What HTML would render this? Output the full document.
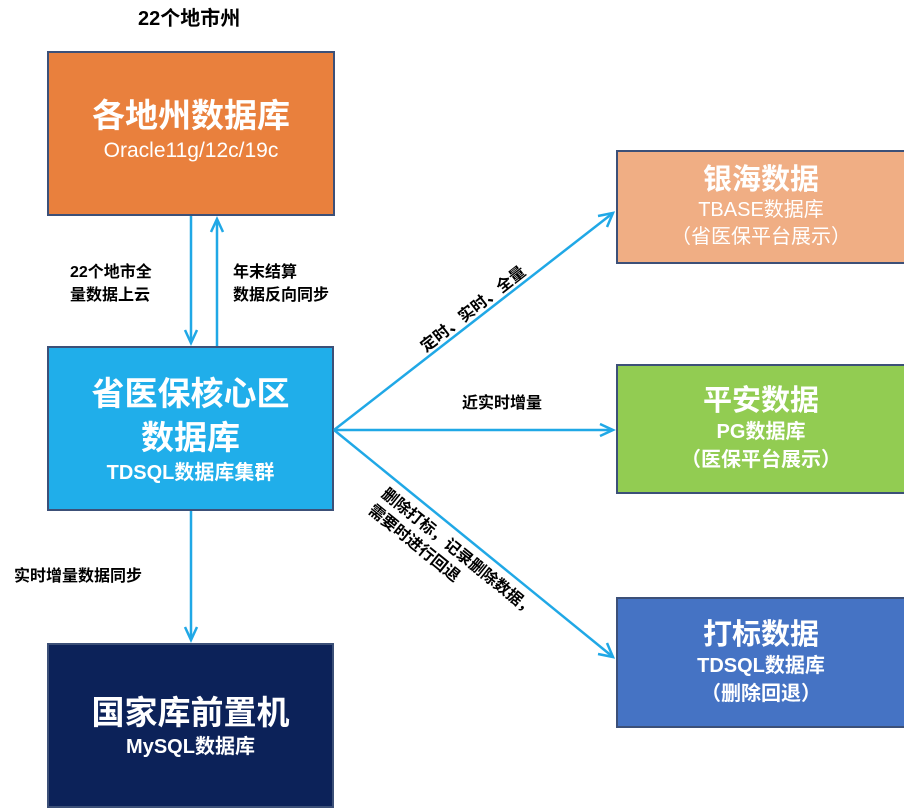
<!DOCTYPE html>
<html><head><meta charset="utf-8"><style>
body{margin:0;width:904px;height:810px;background:#fff;position:relative;overflow:hidden;font-family:"Liberation Sans","Noto Sans CJK SC",sans-serif;font-weight:bold}
.b{position:absolute;box-sizing:border-box;border:2px solid #3c5078;color:#fff;text-align:center;display:flex;flex-direction:column;justify-content:center}
.t{position:absolute;color:#000;font-size:16px;line-height:23px;white-space:nowrap}
</style></head><body>
<div class="t" style="left:138px;top:8px;font-size:20px">22个地市州</div>
<div class="b" style="left:47px;top:51px;width:288px;height:165px;background:#E9803D;justify-content:flex-start;padding-top:42px">
<div style="font-size:33px;line-height:42px">各地州数据库</div><div style="font-size:21px;line-height:28px;font-weight:normal">Oracle11g/12c/19c</div></div>
<div class="b" style="left:47px;top:346px;width:287px;height:165px;background:#20AEEA">
<div style="font-size:33px;line-height:44px">省医保核心区<br>数据库</div><div style="font-size:20px;line-height:26px">TDSQL数据库集群</div></div>
<div class="b" style="left:47px;top:643px;width:287px;height:165px;background:#0C2259">
<div style="font-size:33px;line-height:42px">国家库前置机</div><div style="font-size:20px;line-height:26px">MySQL数据库</div></div>
<div class="b" style="left:616px;top:150px;width:290px;height:114px;background:#F0AE84">
<div style="font-size:29px;line-height:34px">银海数据</div><div style="font-size:20px;line-height:27px;font-weight:normal">TBASE数据库<br>（省医保平台展示）</div></div>
<div class="b" style="left:616px;top:364px;width:290px;height:130px;background:#92CC52">
<div style="font-size:29px;line-height:34px">平安数据</div><div style="font-size:20px;line-height:28px">PG数据库<br>（医保平台展示）</div></div>
<div class="b" style="left:616px;top:597px;width:290px;height:131px;background:#4573C4">
<div style="font-size:29px;line-height:34px">打标数据</div><div style="font-size:20px;line-height:28px">TDSQL数据库<br>（删除回退）</div></div>
<svg width="904" height="810" style="position:absolute;left:0;top:0" fill="none" stroke="#20A8E6" stroke-width="2.5">
<line x1="191" y1="216" x2="191" y2="342"/><polyline points="185,330 191,343 197,330"/>
<line x1="217" y1="346" x2="217" y2="220"/><polyline points="211,232 217,219 223,232"/>
<line x1="191" y1="511" x2="191" y2="640"/><polyline points="185,627 191,640 197,627"/>
<line x1="334" y1="430" x2="613" y2="213"/><polyline points="598,216 613,213 607,227"/>
<line x1="334" y1="430" x2="613" y2="430"/><polyline points="600,424 613,430 600,436"/>
<line x1="334" y1="430" x2="613" y2="657"/><polyline points="607,643 613,657 598,654"/>
</svg>
<div class="t" style="left:70px;top:261px">22个地市全<br>量数据上云</div>
<div class="t" style="left:233px;top:261px">年末结算<br>数据反向同步</div>
<div class="t" style="left:14px;top:565px">实时增量数据同步</div>
<div class="t" style="left:462px;top:392px">近实时增量</div>
<div class="t" style="transform:rotate(-38deg);transform-origin:left top;top:340px;left:416px">定时、实时、全量</div>
<div class="t" style="left:390px;top:484px;transform:rotate(39deg);transform-origin:left top;line-height:21px">删除打标，记录删除数据，<br>需要时进行回退</div>
</body></html>
